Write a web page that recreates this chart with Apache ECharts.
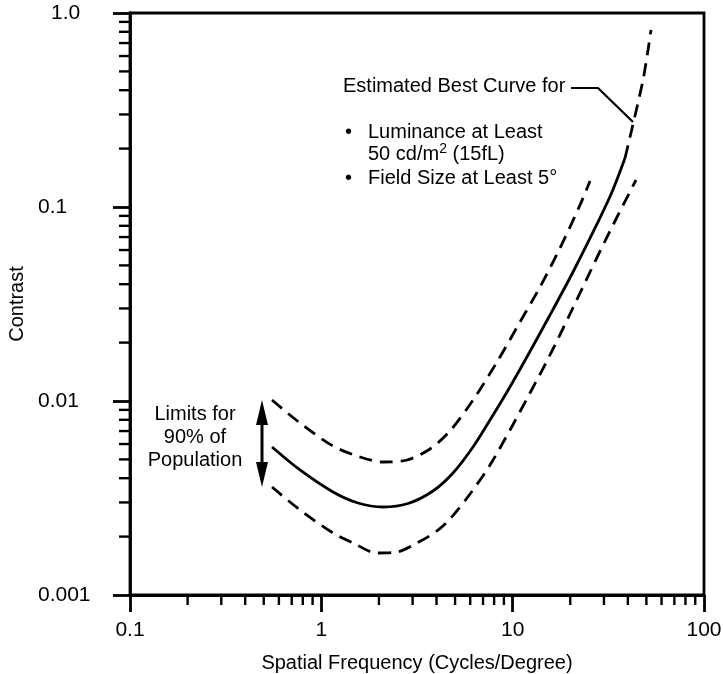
<!DOCTYPE html>
<html><head><meta charset="utf-8">
<script src="https://cdn.jsdelivr.net/npm/echarts@6/dist/echarts.min.js"></script>
<style>html,body{margin:0;padding:0;background:#fff}#c{width:723px;height:674px}</style>
</head><body><div id="c"></div>
<script>
// ---- data ----
const xTickLabels = ['0.1', '1', '10', '100'];
const yTickLabels = ['0.001', '0.01', '0.1', '1.0'];
const xMinorTicks = [0.2,0.3,0.4,0.5,0.6,0.7,0.8,0.9, 2,3,4,5,6,7,8,9, 20,30,40,50,60,70,80,90];
const yMinorTicks = [0.002,0.003,0.004,0.005,0.006,0.007,0.008,0.009, 0.02,0.03,0.04,0.05,0.06,0.07,0.08,0.09, 0.2,0.3,0.4,0.5,0.6,0.7,0.8,0.9];

// Estimated best curve (solid part)
const bestFreq     = [0.5524, 0.7735, 1.1508, 1.5549, 2.1010, 2.8383, 3.8335, 4.8780, 6.2050, 7.6129, 9.3415, 12.028, 15.671, 20.672, 27.596, 33.05, 38.66];
const bestContrast = [0.005792, 0.004409, 0.003396, 0.002980, 0.002842, 0.002962, 0.003436, 0.004254, 0.005792, 0.007982, 0.011125, 0.017268, 0.027749, 0.046238, 0.081747, 0.11951, 0.17888];
// Estimated best curve (dashed extension)
const bestExtFreq     = [38.66, 43.07, 48.01, 50.98, 52.85];
const bestExtContrast = [0.17888, 0.28083, 0.45156, 0.64462, 0.81735];
// Upper 90% limit
const upperFreq     = [0.5524, 0.7735, 1.1508, 1.5928, 2.1010, 2.8044, 3.6977, 4.7028, 6.2050, 8.2818, 10.923, 13.897, 17.681, 22.493, 25.370];
const upperContrast = [0.010119, 0.007700, 0.005862, 0.005145, 0.004849, 0.004965, 0.005657, 0.007005, 0.010119, 0.015884, 0.025546, 0.038697, 0.061460, 0.10240, 0.13614];
// Lower 90% limit
const lowerFreq     = [0.5524, 0.7735, 1.1508, 1.4637, 1.9540, 2.4862, 3.1625, 4.0221, 4.7028, 5.9846, 7.6129, 9.6851, 12.321, 15.671, 19.937, 25.370, 32.263, 44.12];
const lowerContrast = [0.003603, 0.002743, 0.002088, 0.001854, 0.001646, 0.001666, 0.001854, 0.002138, 0.002464, 0.003316, 0.004678, 0.007089, 0.010998, 0.017268, 0.028080, 0.046238, 0.075204, 0.13776];
// Leader line for annotation
const leaderFreq     = [20.18, 27.93, 42.56];
const leaderContrast = [0.4106, 0.4106, 0.2743];

const zip = (a, b) => a.map((v, i) => [v, b[i]]);
const FONT = '"Liberation Sans", Arial, Helvetica, sans-serif';
const chart = echarts.init(document.getElementById('c'), null, {renderer: 'canvas'});
const lw = 2.8;
const xMin = 0.1, xMax = 100, yMin = 0.001, yMax = 1;

function minorTickSeries(vals, isX) {
  return {
    type: 'custom', silent: true, clip: false, z: 5,
    data: vals.map(v => isX ? [v, yMin] : [xMin, v]),
    renderItem: function (params, api) {
      const p = api.coord([api.value(0), api.value(1)]);
      const shape = isX ? {x1: p[0], y1: p[1], x2: p[0], y2: p[1] + 10}
                        : {x1: p[0], y1: p[1], x2: p[0] - 11, y2: p[1]};
      return {type: 'line', shape: shape, style: {stroke: '#000', lineWidth: 2.4}};
    }
  };
}

function curve(name, xs, ys, dashed) {
  return {type: 'line', name: name, data: zip(xs, ys), smooth: 0.3, showSymbol: false, silent: true,
          lineStyle: {color: '#000', width: lw, type: dashed ? [13, 8] : 'solid'}};
}

const option = {
  animation: false,
  backgroundColor: '#fff',
  textStyle: {fontFamily: FONT, color: '#000'},
  grid: {left: 130, right: 19, top: 13, bottom: 79, containLabel: false, outerBoundsMode: 'none',
         show: true, borderColor: '#000', borderWidth: 2.8},
  xAxis: {
    type: 'log', logBase: 10, min: xMin, max: xMax,
    name: 'Spatial Frequency (Cycles/Degree)', nameLocation: 'middle', nameGap: 58,
    nameTextStyle: {fontSize: 20, color: '#000', fontFamily: FONT},
    axisLine: {lineStyle: {color: '#000', width: lw}},
    axisTick: {show: true, length: 17, inside: false, lineStyle: {color: '#000', width: lw}},
    splitLine: {show: false}, minorTick: {show: false},
    axisLabel: {
      fontSize: 21, color: '#000', fontFamily: FONT, margin: 25,
      formatter: v => xTickLabels[Math.round(Math.log10(v)) + 1]
    }
  },
  yAxis: {
    type: 'log', logBase: 10, min: yMin, max: yMax,
    name: 'Contrast', nameLocation: 'middle', nameGap: 96, nameRotate: 90,
    nameTextStyle: {fontSize: 20, color: '#000', fontFamily: FONT},
    axisLine: {lineStyle: {color: '#000', width: lw}},
    axisTick: {show: true, length: 17, inside: false, lineStyle: {color: '#000', width: lw}},
    splitLine: {show: false}, minorTick: {show: false},
    axisLabel: {
      fontSize: 21, color: '#000', fontFamily: FONT, margin: 92, align: 'left',
      formatter: v => {
        const s = yTickLabels[Math.round(Math.log10(v)) + 3];
        return s === '1.0' ? '{one|' + s + '}' : s;
      },
      rich: {one: {fontSize: 21, fontFamily: FONT, color: '#000', padding: [0, 0, 0, 13]}}
    }
  },
  series: [
    minorTickSeries(xMinorTicks, true),
    minorTickSeries(yMinorTicks, false),
    curve('Estimated Best Curve', bestFreq, bestContrast, false),
    curve('Estimated Best Curve (extension)', bestExtFreq, bestExtContrast, true),
    curve('Upper limit', upperFreq, upperContrast, true),
    curve('Lower limit', lowerFreq, lowerContrast, true),
    {type: 'line', name: 'Leader', data: zip(leaderFreq, leaderContrast), smooth: false, showSymbol: false, silent: true,
     lineStyle: {color: '#000', width: 2.2, type: 'solid'}}
  ],
  graphic: [
    {type: 'text', left: 343, top: 87 - 11, style: {text: 'Estimated Best Curve for', font: '20px ' + FONT, fill: '#000'}},
    {type: 'text', left: 345, top: 133 - 11, style: {text: '•', font: '20px ' + FONT, fill: '#000'}},
    {type: 'text', left: 368, top: 133 - 11, style: {text: 'Luminance at Least', font: '20px ' + FONT, fill: '#000'}},
    {type: 'text', left: 368, top: 156 - 14, style: {
      text: '{n|50 cd/m}{s|2}{n| (15fL)}',
      rich: {n: {fontSize: 20, fontFamily: FONT, fill: '#000', color: '#000', verticalAlign: 'bottom'},
             s: {fontSize: 14, fontFamily: FONT, fill: '#000', color: '#000', verticalAlign: 'top', padding: [0, 0, 8, 0]}}}},
    {type: 'text', left: 345, top: 179 - 11, style: {text: '•', font: '20px ' + FONT, fill: '#000'}},
    {type: 'text', left: 368, top: 179 - 11, style: {text: 'Field Size at Least 5°', font: '20px ' + FONT, fill: '#000'}},
    {type: 'text', x: 195, y: 414, style: {text: 'Limits for', font: '20px ' + FONT, fill: '#000', align: 'center', verticalAlign: 'middle'}},
    {type: 'text', x: 195, y: 437, style: {text: '90% of', font: '20px ' + FONT, fill: '#000', align: 'center', verticalAlign: 'middle'}},
    {type: 'text', x: 195, y: 460, style: {text: 'Population', font: '20px ' + FONT, fill: '#000', align: 'center', verticalAlign: 'middle'}},
    {type: 'line', shape: {x1: 262, y1: 415, x2: 262, y2: 472}, style: {stroke: '#000', lineWidth: 3}},
    {type: 'polygon', shape: {points: [[262, 400], [256, 425], [268, 425]]}, style: {fill: '#000'}},
    {type: 'polygon', shape: {points: [[262, 487], [256, 462], [268, 462]]}, style: {fill: '#000'}}
  ]
};
chart.setOption(option);
</script>
</body></html>
